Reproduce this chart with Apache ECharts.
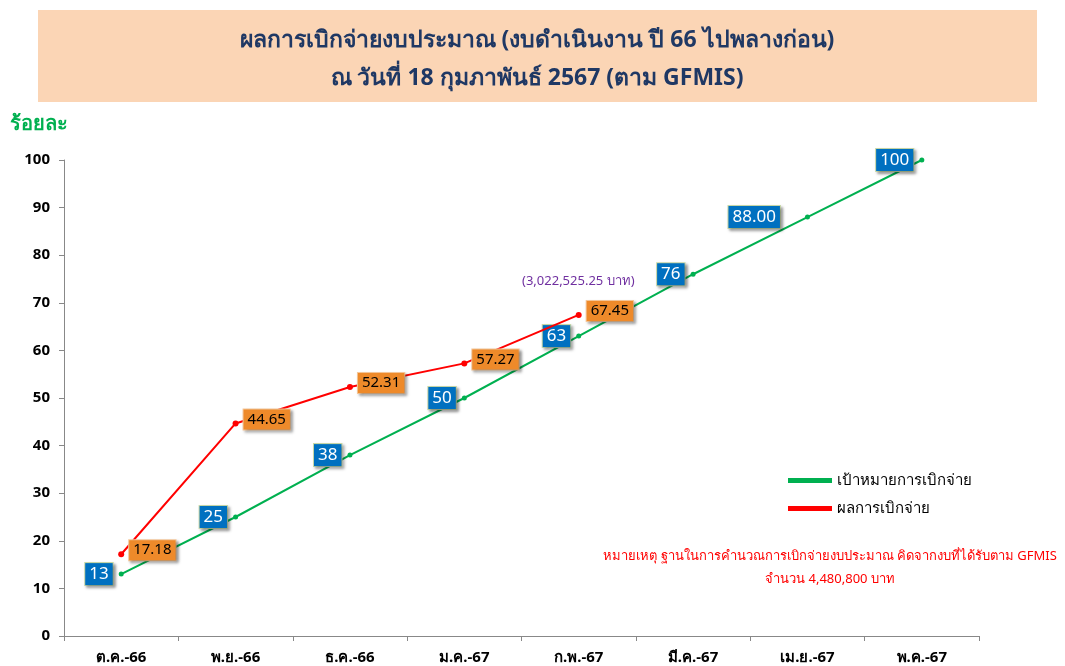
<!DOCTYPE html>
<html>
<head>
<meta charset="utf-8">
<script src="https://cdn.jsdelivr.net/npm/echarts@6/dist/echarts.min.js"></script>
<style>
html, body { margin: 0; padding: 0; background: #fff; }
#chart { width: 1065px; height: 666px; }
</style>
</head>
<body>
<div id="chart"></div>
<script>
// เดือน
const months = ["ต.ค.-66", "พ.ย.-66", "ธ.ค.-66", "ม.ค.-67", "ก.พ.-67", "มี.ค.-67", "เม.ย.-67", "พ.ค.-67"];
// เป้าหมาย
const target = [13, 25, 38, 50, 63, 76, 88, 100];
const targetLabels = ["13", "25", "38", "50", "63", "76", "88.00", "100"];
// ผลการเบิกจ่าย
const actual = [17.18, 44.65, 52.31, 57.27, 67.45];
const actualLabels = ["17.18", "44.65", "52.31", "57.27", "67.45"];

const font = "Tahoma, 'Noto Sans', sans-serif";

// the 88.00 box sits further left of its point in the original
const targetData = target.map((v, i) => i == 6 ? { value: v, label: { distance: 25 } } : v);

let myChart = echarts.init(document.getElementById("chart"));
myChart.setOption({
  animation: false,
  textStyle: { fontFamily: font },
  grid: { left: 64, right: 86, top: 160, bottom: 30 },
  legend: {
    orient: "vertical",
    left: 783,
    top: 468,
    icon: "rect",
    itemWidth: 44,
    itemHeight: 5,
    itemGap: 13,
    textStyle: { fontSize: 15, color: "#000", fontFamily: font },
    data: ["เป้าหมายการเบิกจ่าย", "ผลการเบิกจ่าย"]
  },
  xAxis: {
    type: "category",
    data: months,
    boundaryGap: true,
    axisLine: { lineStyle: { color: "#888" } },
    axisTick: { show: true, length: 5, lineStyle: { color: "#888" } },
    axisLabel: { fontSize: 15, fontWeight: "bold", color: "#000", margin: 14 }
  },
  yAxis: {
    type: "value",
    min: 0,
    max: 100,
    interval: 10,
    splitLine: { show: false },
    axisLine: { show: true, lineStyle: { color: "#888" } },
    axisTick: { show: true, length: 5, lineStyle: { color: "#888" } },
    axisLabel: { fontSize: 15, fontWeight: "bold", color: "#000", margin: 14 }
  },
  series: [
    {
      name: "เป้าหมายการเบิกจ่าย",
      type: "line",
      data: targetData,
      color: "#00B050",
      lineStyle: { width: 2 },
      symbol: "circle",
      symbolSize: 5,
      z: 3,
      label: {
        show: true,
        position: "left",
        distance: 6,
        formatter: p => targetLabels[p.dataIndex],
        color: "#fff",
        fontSize: 17,
        backgroundColor: "#0070C0",
        borderColor: "#c8d8a8",
        borderWidth: 1,
        padding: [3, 4, 2, 4],
        shadowColor: "rgba(0,0,0,0.35)",
        shadowBlur: 3,
        shadowOffsetX: 2,
        shadowOffsetY: 2
      }
    },
    {
      name: "ผลการเบิกจ่าย",
      type: "line",
      data: actual,
      color: "#FF0000",
      lineStyle: { width: 2 },
      symbol: "circle",
      symbolSize: 6,
      z: 4,
      label: {
        show: true,
        position: "right",
        distance: 5,
        offset: [0, -4],
        formatter: p => actualLabels[p.dataIndex],
        color: "#000",
        fontSize: 15,
        backgroundColor: "#EE8A2A",
        borderColor: "#f5c79a",
        borderWidth: 1,
        padding: [3, 4, 2, 4],
        shadowColor: "rgba(0,0,0,0.35)",
        shadowBlur: 3,
        shadowOffsetX: 2,
        shadowOffsetY: 2
      }
    }
  ],
  graphic: [
    {
      type: "rect",
      left: 38,
      top: 10,
      shape: { width: 999, height: 92 },
      style: { fill: "#FBD5B5" },
      silent: true
    },
    {
      type: "text",
      x: 537,
      y: 21,
      style: {
        text: "ผลการเบิกจ่ายงบประมาณ (งบดำเนินงาน ปี 66 ไปพลางก่อน)\nณ วันที่ 18 กุมภาพันธ์ 2567 (ตาม GFMIS)",
        fill: "#1F3864",
        font: "bold 23px " + font,
        lineHeight: 38,
        align: "center"
      }
    },
    {
      type: "text",
      left: 10,
      top: 114,
      style: { text: "ร้อยละ", fill: "#00B050", font: "bold 20px " + font }
    },
    {
      type: "text",
      left: 522,
      top: 275,
      style: { text: "(3,022,525.25 บาท)", fill: "#7030A0", font: "13px " + font }
    },
    {
      type: "text",
      x: 830,
      y: 545,
      style: {
        text: "หมายเหตุ ฐานในการคำนวณการเบิกจ่ายงบประมาณ คิดจากงบที่ได้รับตาม GFMIS\nจำนวน 4,480,800 บาท",
        fill: "#FF0000",
        font: "13px " + font,
        lineHeight: 23,
        align: "center"
      }
    }
  ]
});
</script>
</body>
</html>
